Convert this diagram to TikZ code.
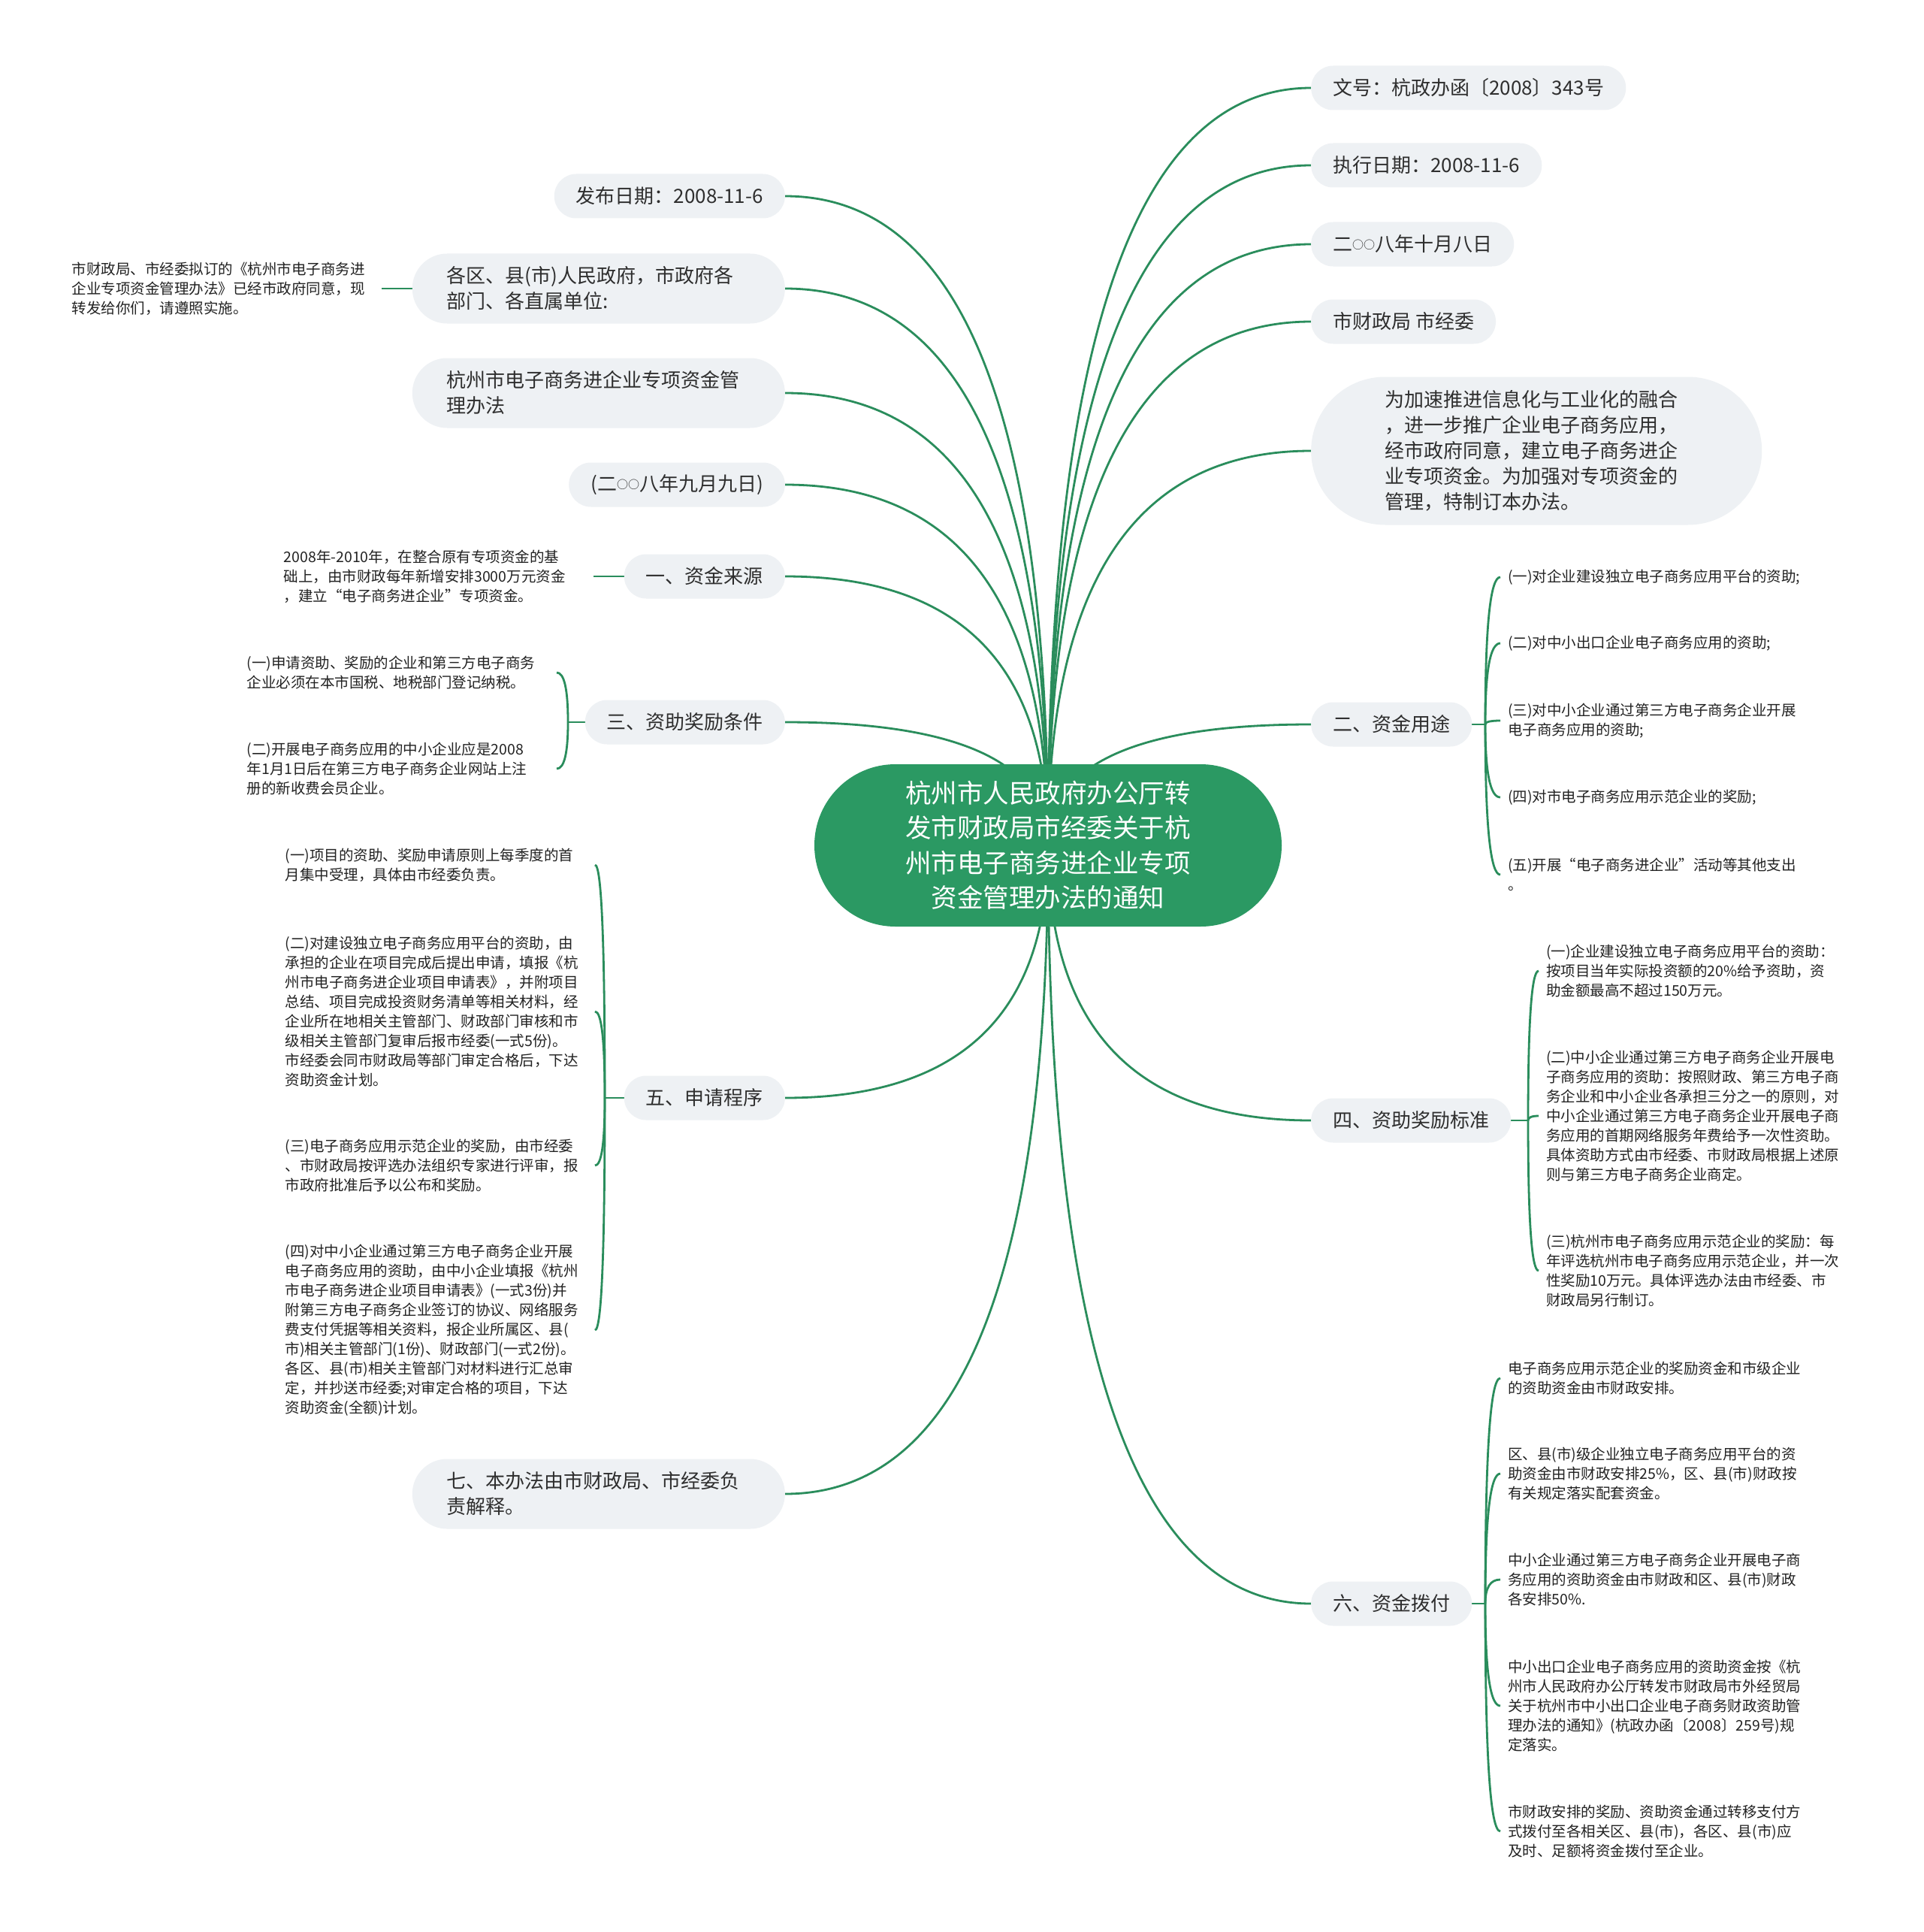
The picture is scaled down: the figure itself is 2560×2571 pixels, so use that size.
\documentclass[tikz,border=0pt]{standalone}
\usepackage{fontspec}
\setmainfont{Noto Sans CJK SC}
\usetikzlibrary{calc,backgrounds}

\definecolor{rootgreen}{HTML}{2B9963}
\definecolor{linegreen}{HTML}{2A8D5C}
\definecolor{topicgrey}{HTML}{EEF1F4}
\definecolor{inkgrey}{HTML}{2E2E2E}
\definecolor{leafink}{HTML}{222222}

\newcommand{\smallzeros}{\raisebox{3pt}{\fontsize{15pt}{15pt}\selectfont ○○}}

\tikzset{
  branch/.style={linegreen,line width=2.8pt},
  rootnode/.style={fill=rootgreen,text=white,font=\fontsize{34.5pt}{46.5pt}\selectfont,align=center,
    minimum width=622pt,minimum height=216pt,rounded corners=107.9pt,inner sep=0pt},
  topic/.style={fill=topicgrey,text=inkgrey,font=\fontsize{26pt}{34pt}\selectfont,
    inner xsep=29pt,inner ysep=0pt,minimum height=59pt,rounded corners=29.4pt},
  topicwide/.style={topic,text width=404pt,align=left,inner xsep=46pt,minimum height=93pt,rounded corners=46.4pt},
  leaf/.style={text=leafink,font=\fontsize{19.5pt}{26pt}\selectfont,text width=402pt,align=left,
    inner xsep=10pt,inner ysep=2pt},
}

\begin{document}
\begin{tikzpicture}[x=1pt,y=-1pt]
  \useasboundingbox (0,0) rectangle (2560,2571);

  \node[rootnode] (root) at (1395,1125) {杭州市人民政府办公厅转\\发市财政局市经委关于杭\\州市电子商务进企业专项\\资金管理办法的通知};

  % right-hand topics
  \node[topic,anchor=west] (docno) at (1745,117) {文号：杭政办函〔2008〕343号};
  \node[topic,anchor=west] (exec) at (1745,220) {执行日期：2008-11-6};
  \node[topic,anchor=west] (sign) at (1745,325) {二\smallzeros 八年十月八日};
  \node[topic,anchor=west] (issuer) at (1745,428) {市财政局 市经委};
  \node[topic,anchor=west,text width=404pt,align=left,inner xsep=98pt,minimum height=197pt,rounded corners=98.4pt]
    (aim) at (1745,600) {为加速推进信息化与工业化的融合\\，进一步推广企业电子商务应用，\\经市政府同意，建立电子商务进企\\业专项资金。为加强对专项资金的\\管理，特制订本办法。};
  \node[topic,anchor=west] (use) at (1745,964) {二、资金用途};
  \node[topic,anchor=west] (award) at (1745,1491) {四、资助奖励标准};
  \node[topic,anchor=west] (pay) at (1745,2134) {六、资金拨付};

  % left-hand topics
  \node[topic,anchor=east] (pub) at (1045,261) {发布日期：2008-11-6};
  \node[topicwide,anchor=east] (to) at (1045,384) {各区、县(市)人民政府，市政府各\\部门、各直属单位:};
  \node[topicwide,anchor=east] (title) at (1045,523) {杭州市电子商务进企业专项资金管\\理办法};
  \node[topic,anchor=east] (date) at (1045,645) {(二\smallzeros 八年九月九日)};
  \node[topic,anchor=east] (src) at (1045,767) {一、资金来源};
  \node[topic,anchor=east] (cond) at (1045,961) {三、资助奖励条件};
  \node[topic,anchor=east] (proc) at (1045,1461) {五、申请程序};
  \node[topicwide,anchor=east] (expl) at (1045,1988) {七、本办法由市财政局、市经委负\\责解释。};

  % leaves on the left
  \node[leaf,anchor=east] (toleaf) at (508,384) {市财政局、市经委拟订的《杭州市电子商务进\\企业专项资金管理办法》已经市政府同意，现\\转发给你们，请遵照实施。};
  \node[leaf,anchor=east] (srcleaf) at (790,767) {2008年-2010年，在整合原有专项资金的基\\础上，由市财政每年新增安排3000万元资金\\，建立“电子商务进企业”专项资金。};
  \node[leaf,anchor=east] (c31) at (741,895) {(一)申请资助、奖励的企业和第三方电子商务\\企业必须在本市国税、地税部门登记纳税。};
  \node[leaf,anchor=east] (c32) at (741,1023) {(二)开展电子商务应用的中小企业应是2008\\年1月1日后在第三方电子商务企业网站上注\\册的新收费会员企业。};
  \node[leaf,anchor=east] (c51) at (792,1151) {(一)项目的资助、奖励申请原则上每季度的首\\月集中受理，具体由市经委负责。};
  \node[leaf,anchor=east] (c52) at (792,1346) {(二)对建设独立电子商务应用平台的资助，由\\承担的企业在项目完成后提出申请，填报《杭\\州市电子商务进企业项目申请表》，并附项目\\总结、项目完成投资财务清单等相关材料，经\\企业所在地相关主管部门、财政部门审核和市\\级相关主管部门复审后报市经委(一式5份)。\\市经委会同市财政局等部门审定合格后，下达\\资助资金计划。};
  \node[leaf,anchor=east] (c53) at (792,1551) {(三)电子商务应用示范企业的奖励，由市经委\\、市财政局按评选办法组织专家进行评审，报\\市政府批准后予以公布和奖励。};
  \node[leaf,anchor=east] (c54) at (792,1770) {(四)对中小企业通过第三方电子商务企业开展\\电子商务应用的资助，由中小企业填报《杭州\\市电子商务进企业项目申请表》(一式3份)并\\附第三方电子商务企业签订的协议、网络服务\\费支付凭据等相关资料，报企业所属区、县(\\市)相关主管部门(1份)、财政部门(一式2份)。\\各区、县(市)相关主管部门对材料进行汇总审\\定，并抄送市经委;对审定合格的项目，下达\\资助资金(全额)计划。};

  % leaves on the right
  \node[leaf,anchor=west] (c21) at (1997,768) {(一)对企业建设独立电子商务应用平台的资助;};
  \node[leaf,anchor=west] (c22) at (1997,856) {(二)对中小出口企业电子商务应用的资助;};
  \node[leaf,anchor=west] (c23) at (1997,959) {(三)对中小企业通过第三方电子商务企业开展\\电子商务应用的资助;};
  \node[leaf,anchor=west] (c24) at (1997,1061) {(四)对市电子商务应用示范企业的奖励;};
  \node[leaf,anchor=west] (c25) at (1997,1164) {(五)开展“电子商务进企业”活动等其他支出\\。};
  \node[leaf,anchor=west] (c41) at (2048,1292) {(一)企业建设独立电子商务应用平台的资助：\\按项目当年实际投资额的20\%给予资助，资\\助金额最高不超过150万元。};
  \node[leaf,anchor=west] (c42) at (2048,1485) {(二)中小企业通过第三方电子商务企业开展电\\子商务应用的资助：按照财政、第三方电子商\\务企业和中小企业各承担三分之一的原则，对\\中小企业通过第三方电子商务企业开展电子商\\务应用的首期网络服务年费给予一次性资助。\\具体资助方式由市经委、市财政局根据上述原\\则与第三方电子商务企业商定。};
  \node[leaf,anchor=west] (c43) at (2048,1691) {(三)杭州市电子商务应用示范企业的奖励：每\\年评选杭州市电子商务应用示范企业，并一次\\性奖励10万元。具体评选办法由市经委、市\\财政局另行制订。};
  \node[leaf,anchor=west] (c61) at (1997,1834) {电子商务应用示范企业的奖励资金和市级企业\\的资助资金由市财政安排。};
  \node[leaf,anchor=west] (c62) at (1997,1961) {区、县(市)级企业独立电子商务应用平台的资\\助资金由市财政安排25\%，区、县(市)财政按\\有关规定落实配套资金。};
  \node[leaf,anchor=west] (c63) at (1997,2102) {中小企业通过第三方电子商务企业开展电子商\\务应用的资助资金由市财政和区、县(市)财政\\各安排50\%.};
  \node[leaf,anchor=west] (c64) at (1997,2270) {中小出口企业电子商务应用的资助资金按《杭\\州市人民政府办公厅转发市财政局市外经贸局\\关于杭州市中小出口企业电子商务财政资助管\\理办法的通知》(杭政办函〔2008〕259号)规\\定落实。};
  \node[leaf,anchor=west] (c65) at (1997,2437) {市财政安排的奖励、资助资金通过转移支付方\\式拨付至各相关区、县(市)，各区、县(市)应\\及时、足额将资金拨付至企业。};

  \coordinate (j2) at (1977,964);
  \coordinate (j4) at (2034,1491);
  \coordinate (j6) at (1977,2134);
  \coordinate (j3) at (756,961);
  \coordinate (j5) at (805,1461);

  \begin{scope}[on background layer]
    \fill[white] (0,0) rectangle (2560,2571);
    % curved branches leave the middle of the root
    \foreach \n in {docno,exec,sign,issuer,aim,use,award,pay} {
      \coordinate (k) at (root.center |- \n.west);
      \draw[branch] (root.center) .. controls ($(root.center)!.667!(k)$) and ($(\n.west)!.667!(k)$) .. (\n.west);
    }
    \foreach \n in {pub,to,title,date,src,cond,proc,expl} {
      \coordinate (k) at (root.center |- \n.east);
      \draw[branch] (root.center) .. controls ($(root.center)!.667!(k)$) and ($(\n.east)!.667!(k)$) .. (\n.east);
    }
    \draw[branch] (to.west) -- (toleaf.east);
    \draw[branch] (src.west) -- (srcleaf.east);

    % brackets to the leaves
    \draw[branch] (use.east) -- (j2);
    \foreach \n in {c21,c22,c23,c24,c25} {
      \coordinate (k) at (j2 |- \n.west);
      \draw[branch] (j2) .. controls ($(j2)!.667!(k)$) and ($(\n.west)!.667!(k)$) .. (\n.west);
    }
    \draw[branch] (award.east) -- (j4);
    \foreach \n in {c41,c42,c43} {
      \coordinate (k) at (j4 |- \n.west);
      \draw[branch] (j4) .. controls ($(j4)!.667!(k)$) and ($(\n.west)!.667!(k)$) .. (\n.west);
    }
    \draw[branch] (pay.east) -- (j6);
    \foreach \n in {c61,c62,c63,c64,c65} {
      \coordinate (k) at (j6 |- \n.west);
      \draw[branch] (j6) .. controls ($(j6)!.667!(k)$) and ($(\n.west)!.667!(k)$) .. (\n.west);
    }
    \draw[branch] (cond.west) -- (j3);
    \foreach \n in {c31,c32} {
      \coordinate (k) at (j3 |- \n.east);
      \draw[branch] (j3) .. controls ($(j3)!.667!(k)$) and ($(\n.east)!.667!(k)$) .. (\n.east);
    }
    \draw[branch] (proc.west) -- (j5);
    \foreach \n in {c51,c52,c53,c54} {
      \coordinate (k) at (j5 |- \n.east);
      \draw[branch] (j5) .. controls ($(j5)!.667!(k)$) and ($(\n.east)!.667!(k)$) .. (\n.east);
    }
  \end{scope}
\end{tikzpicture}
\end{document}
